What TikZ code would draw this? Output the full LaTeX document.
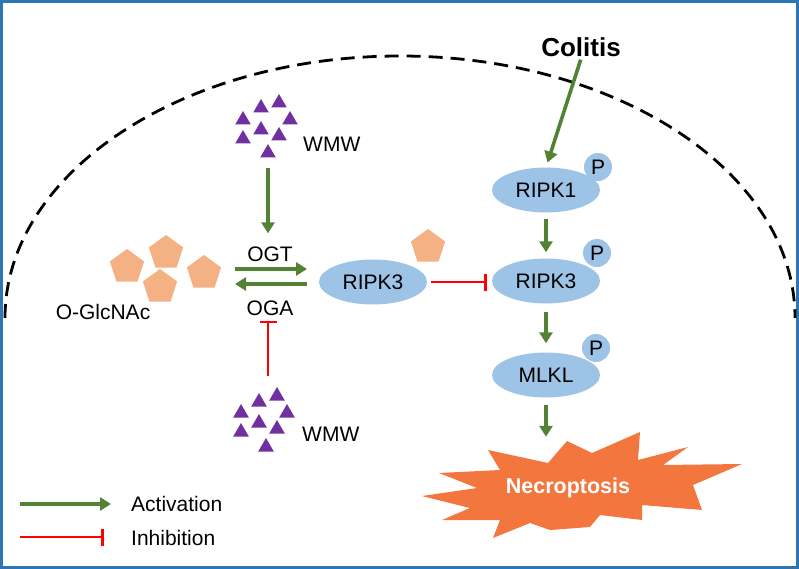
\documentclass[tikz,border=0pt]{standalone}
\usepackage{fontspec}
\setmainfont{Liberation Sans}
\usetikzlibrary{shapes.geometric,arrows.meta}

\definecolor{framecol}{HTML}{2E75B6}
\definecolor{protblue}{HTML}{9DC3E6}
\definecolor{actgreen}{HTML}{548235}
\definecolor{inhred}{HTML}{FF0000}
\definecolor{glcorange}{HTML}{F4B183}
\definecolor{wmwpurple}{HTML}{7030A0}
\definecolor{burstcol}{HTML}{F4763F}

\tikzset{
  txt/.style={inner sep=2pt, font=\fontsize{21}{25}\selectfont},
  prot/.style={ellipse, fill=protblue, minimum width=108pt, minimum height=45pt, inner sep=0pt, txt},
  phos/.style={circle, fill=protblue, minimum size=28pt, inner sep=0pt, txt},
  glc/.style={regular polygon, regular polygon sides=5, fill=glcorange, minimum size=36pt, inner sep=0pt},
  wmw/.style={regular polygon, regular polygon sides=3, fill=wmwpurple, minimum size=18pt, inner sep=0pt},
  act/.style={draw=actgreen, line width=3.6pt, -{Triangle[length=11pt,width=13pt]}},
  inh/.style={draw=inhred, line width=2.8pt, -{Bar[width=17pt,line width=2.8pt]}},
}

\begin{document}
\begin{tikzpicture}[x=1pt,y=-1pt]
\useasboundingbox (0,0) rectangle (799,569);
\draw [framecol, line width=3pt] (1.5,1.5) rectangle (797.5,567.5);
% cell membrane
\draw [black, line width=2.8pt, dash pattern=on 14pt off 8pt] (5,318) arc [start angle=180, end angle=0, x radius=395pt, y radius=262pt];

% WMW clusters
\foreach \x/\y [count=\i] in {261/108, 279/103, 243/120, 290/120, 261/130, 243/139, 279/136, 268/153}
  \node [wmw] (wt\i) at (\x,\y) {};
\node [txt, anchor=west] (wmwtop) at (301,144) {WMW};
\foreach \x/\y [count=\i] in {259/402, 277/396, 241/413, 287/413, 259/423, 241/432, 277/429, 266/447}
  \node [wmw] (wb\i) at (\x,\y) {};
\node [txt, anchor=west] (wmwbot) at (300,434) {WMW};

% O-GlcNAc
\node [glc] (p1) at (127,267) {};
\node [glc] (p2) at (166,253) {};
\node [glc] (p3) at (160,287) {};
\node [glc] (p4) at (204,273) {};
\node [txt] (glcnac) at (103,312) {O-GlcNAc};

\node [txt] (ogt) at (270,254) {OGT};
\node [txt] (oga) at (270,308) {OGA};
\node [prot] (ripk3a) at (373,282) {RIPK3};
\node [glc] (p5) at (428,247) {};

\coordinate (ogtL) at (235,269);
\coordinate (ogtR) at (307,269);
\coordinate (ogaL) at (235,284);
\coordinate (ogaR) at (307,284);
\draw [act] (ogtL) -- (ogtR);
\draw [act] (ogaR) -- (ogaL);
\draw [act, shorten <=10pt, shorten >=11pt] (wt8.south) -- (wt8.south |- ogt.north);
\coordinate (wmwb) at (268,376);
\draw [inh, shorten >=3pt] (wmwb) -- (wmwb |- oga.south);

% necroptosis pathway
\node [font=\bfseries\fontsize{26}{30}\selectfont, inner sep=2pt] (colitis) at (581,47) {Colitis};
\node [prot] (ripk1) at (546,190) {RIPK1};
\node [phos] (ph1) at (598,167) {P};
\node [prot] (ripk3b) at (546,281) {RIPK3};
\node [phos] (ph2) at (597,253) {P};
\node [prot] (mlkl) at (546,375) {MLKL};
\node [phos] (ph3) at (596,348) {P};

\fill [burstcol] (488,450) -- (548,463) -- (567,441) -- (592,453) -- (640,432) -- (638,460)
  -- (688,447) -- (663,465) -- (742,464) -- (693,485) -- (702,510) -- (642,505) -- (642,520)
  -- (600,515) -- (590,527) -- (550,530) -- (530,523) -- (493,538) -- (500,520) -- (442,520)
  -- (470,508) -- (422,496) -- (477,488) -- (439,473) -- (500,470) -- cycle;
\node [font=\bfseries\fontsize{21.5}{26}\selectfont, text=white, inner sep=2pt] (necro) at (568,488) {Necroptosis};

\draw [act, shorten <=1pt, shorten >=5pt] (colitis.south) -- (ripk1.north);
\draw [act, shorten <=6pt, shorten >=6pt] (ripk1) -- (ripk3b);
\draw [act, shorten <=8pt, shorten >=9pt] (ripk3b) -- (mlkl);
\draw [act, shorten <=7pt, shorten >=39pt] (mlkl.south) -- (mlkl.south |- necro.north);
\draw [inh, shorten <=4pt, shorten >=5pt] (ripk3a.east) -- (ripk3a.east -| ripk3b.west);

% legend
\coordinate (la1) at (20,504);
\coordinate (la2) at (111,504);
\coordinate (li1) at (20,537);
\coordinate (li2) at (104,537);
\draw [act] (la1) -- (la2);
\draw [inh] (li1) -- (li2);
\node [txt, anchor=west] (lact) at (129,504) {Activation};
\node [txt, anchor=west] (linh) at (129,538) {Inhibition};
\end{tikzpicture}
\end{document}
